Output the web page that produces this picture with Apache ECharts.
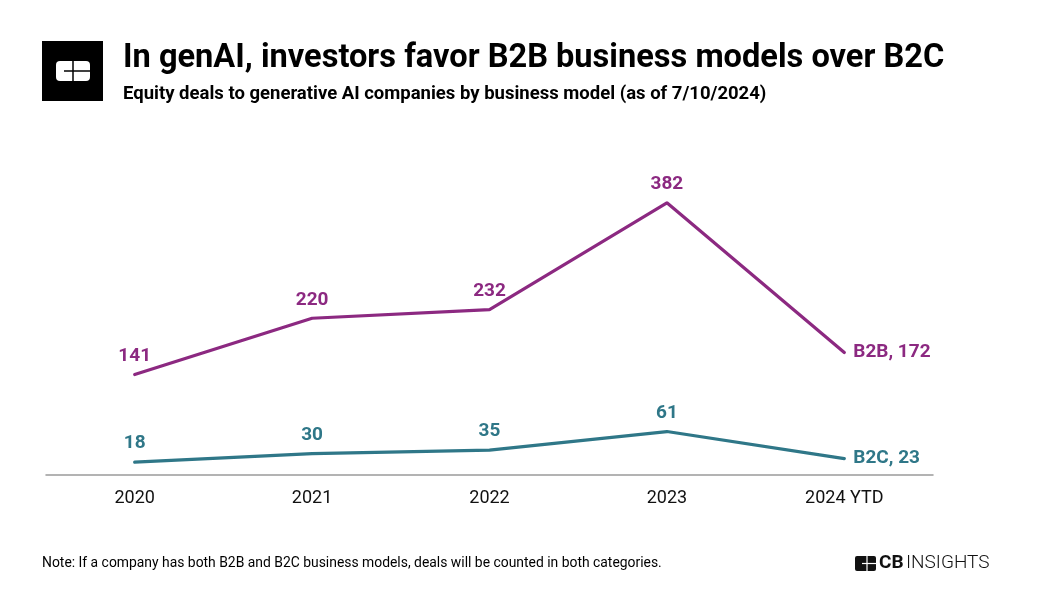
<!DOCTYPE html>
<html><head><meta charset="utf-8">
<script src="https://cdn.jsdelivr.net/npm/echarts@6/dist/echarts.min.js"></script>
<style>html,body{margin:0;padding:0;background:#fff}#c{width:1040px;height:603px}</style>
</head><body><div id="c"></div>
<script>
const categories = ['2020', '2021', '2022', '2023', '2024 YTD'];
const b2b = [141, 220, 232, 382, 172];
const b2c = [18, 30, 35, 61, 23];
const seriesNames = ['B2B', 'B2C'];
const colors = ['#8c2981', '#2f7788'];

const chart = echarts.init(document.getElementById('c'), null, {renderer: 'canvas'});
function mk(name, data, color) {
  return {
    name: name, type: 'line', symbol: 'circle', symbolSize: 2, showSymbol: true,
    data: data.map((v, i) => i === data.length - 1 ? {value: v, label: {position: 'right', distance: 8, formatter: name + ', ' + v}} : v),
    lineStyle: {color: color, width: 3.2, cap: 'round'},
    itemStyle: {color: color},
    label: {
      show: true, position: 'top', distance: 8, color: color, opacity: 1,
      fontFamily: 'Roboto', fontWeight: 'bold', fontSize: 19
    },
    emphasis: {disabled: true}, animation: false
  };
}
chart.setOption({
  animation: false,
  grid: {left: 46, right: 107, top: 190, bottom: 128},
  xAxis: {
    type: 'category', data: categories, boundaryGap: true,
    axisLine: {lineStyle: {color: '#9a9a9a', width: 1.5}},
    axisTick: {show: false},
    axisLabel: {color: '#111', fontFamily: 'Roboto', fontSize: 18, margin: 14}
  },
  yAxis: {type: 'value', min: 0, max: 400, show: false, splitLine: {show: false}},
  series: [mk(seriesNames[0], b2b, colors[0]), mk(seriesNames[1], b2c, colors[1])],
  graphic: [
    {type: 'rect', shape: {x: 42, y: 41, width: 61, height: 60}, style: {fill: '#000'}},
    {type: 'rect', shape: {x: 56, y: 61, width: 34, height: 20, r: 4}, style: {fill: '#fff'}},
    {type: 'line', shape: {x1: 73, y1: 61, x2: 73, y2: 81}, style: {stroke: '#000', lineWidth: 1.5}},
    {type: 'line', shape: {x1: 64, y1: 71, x2: 90, y2: 71}, style: {stroke: '#000', lineWidth: 1.5}},
    {type: 'text', left: 123, top: 42, style: {text: 'In genAI, investors favor B2B business models over B2C', fill: '#000', font: 'bold 32.6px Roboto'}},
    {type: 'text', left: 123, top: 85, style: {text: 'Equity deals to generative AI companies by business model (as of 7/10/2024)', fill: '#000', font: 'bold 18.5px Roboto'}},
    {type: 'text', left: 42, top: 557, style: {text: 'Note: If a company has both B2B and B2C business models, deals will be counted in both categories.', fill: '#000', font: '13.9px Roboto'}},
    {type: 'rect', shape: {x: 855, y: 556, width: 21, height: 15, r: 2}, style: {fill: '#111'}},
    {type: 'line', shape: {x1: 867, y1: 556, x2: 867, y2: 571}, style: {stroke: '#fff', lineWidth: 1.2}},
    {type: 'line', shape: {x1: 862, y1: 563.5, x2: 876, y2: 563.5}, style: {stroke: '#fff', lineWidth: 1.2}},
    {type: 'text', left: 879, top: 554, style: {text: 'CB', fill: '#111', font: 'bold 19px Roboto'}},
    {type: 'text', left: 906, top: 554, style: {text: 'INSIGHTS', fill: '#111', font: '300 19px Roboto'}}
  ]
});
</script></body></html>
